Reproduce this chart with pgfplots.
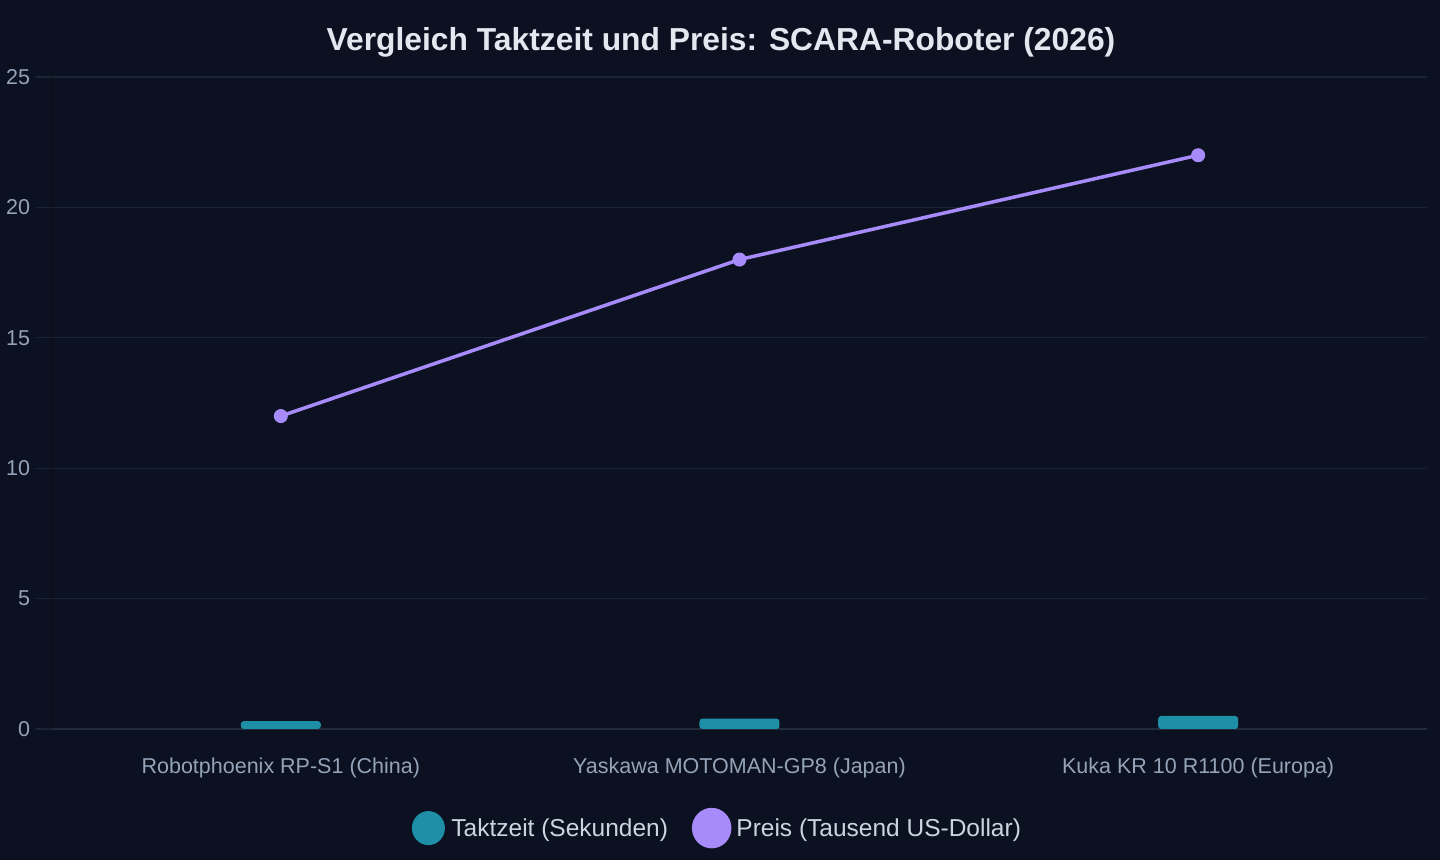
\documentclass[border=0pt]{standalone}
\usepackage{fontspec}
\setmainfont{Liberation Sans}
\usepackage{pgfplots}
\pgfplotsset{compat=1.18}
\definecolor{bg}{HTML}{0B1120}
\definecolor{gridc}{HTML}{1C2433}
\definecolor{axc}{HTML}{222B3B}
\definecolor{barc}{HTML}{1E8FA6}
\definecolor{linec}{HTML}{A78BFA}
\definecolor{tickc}{HTML}{94A3B8}
\definecolor{titlec}{HTML}{E2E8F0}
\definecolor{legc}{HTML}{CBD5E1}
\begin{document}
\begin{tikzpicture}
\fill[bg] (0bp,0bp) rectangle (1440bp,860bp);
\node[font=\fontsize{31.8bp}{36bp}\selectfont\bfseries, text=titlec] at (721bp,818bp) {Vergleich Taktzeit und Preis: SCARA-Roboter (2026)};
\begin{axis}[
  at={(51.5bp,131bp)}, anchor=south west,
  scale only axis, width=1376bp, height=652bp,
  xmin=-0.5, xmax=2.5, ymin=0, ymax=25,
  xtick={0,1,2},
  xticklabels={Robotphoenix RP-S1 (China), Yaskawa MOTOMAN-GP8 (Japan), Kuka KR 10 R1100 (Europa)},
  ytick={0,5,10,15,20,25},
  axis x line*=bottom, axis y line*=left,
  x axis line style={axc, line width=1.5bp},
  y axis line style={bg!70!black, line width=1bp},
  ymajorgrids, major grid style={gridc, line width=1.3bp},
  xtick style={draw=none},
  ytick style={gridc, line width=1.3bp},
  tick align=outside, major tick length=15bp,
  ticklabel style={font=\fontsize{21.5bp}{25bp}\selectfont, text=tickc},
  xticklabel style={yshift=-10bp},
  yticklabel style={xshift=-3bp},
  /pgf/number format/assume math mode=true,
  legend style={at={(0.484,-0.152)}, anchor=center, draw=none, fill=none,
    font=\fontsize{24.5bp}{28bp}\selectfont, text=legc, legend columns=2,
    /tikz/every even column/.append style={column sep=22bp}},
  legend cell align=left,
]
\addplot[ybar, bar width=80bp, fill=barc, draw=none, rounded corners=3bp,
  legend image code/.code={\fill[barc] (0bp,0bp) ellipse (16.5bp and 17bp); \path (21bp,0bp);}]
  coordinates {(0,0.3) (1,0.4) (2,0.5)};
\addlegendentry{Taktzeit (Sekunden)}
\addplot[linec, line width=3.5bp, mark=*, mark size=6.5bp, mark options={fill=linec, draw=linec, line width=1bp},
  legend image code/.code={\fill[linec] (0bp,0bp) ellipse (18bp and 18.5bp); \path (21bp,0bp);}]
  coordinates {(0,12) (1,18) (2,22)};
\addlegendentry{Preis (Tausend US-Dollar)}
\end{axis}
\end{tikzpicture}
\end{document}
